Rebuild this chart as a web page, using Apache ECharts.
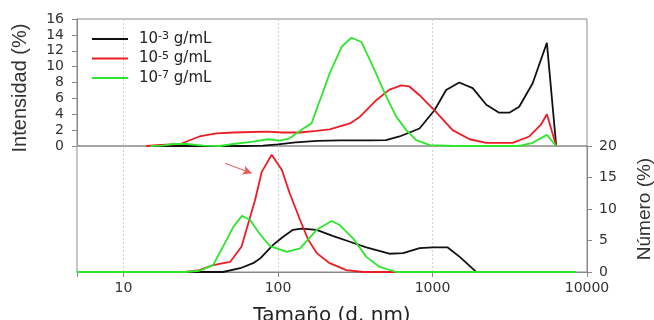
<!DOCTYPE html>
<html>
<head>
<meta charset="utf-8">
<script src="https://cdn.jsdelivr.net/npm/echarts@6/dist/echarts.min.js"></script>
<style>
html,body{margin:0;padding:0;background:#fff;}
#chart{width:654px;height:320px;}
</style>
</head>
<body>
<div id="chart"></div>
<script>
// Legend labels (exponents of concentration)
const seriesNames = ['10-3 g/mL', '10-5 g/mL', '10-7 g/mL'];
const seriesExps = ['-3', '-5', '-7'];
const seriesColors = ['#111111', '#ee1c25', '#2ee62e'];

// Top panel: Intensidad (%)
const blackTopX = [15, 60, 80, 100, 130, 180, 250, 400, 500, 612, 824, 1030, 1225, 1490, 1820, 2230, 2700, 3140, 3640, 4450, 5500, 6320];
const blackTopY = [0, 0, 0.05, 0.2, 0.45, 0.65, 0.7, 0.7, 0.75, 1.2, 2.2, 4.5, 7.05, 8.0, 7.3, 5.2, 4.2, 4.2, 4.95, 7.9, 13.0, 0];

const redTopX = [14, 16.5, 23.3, 31, 40, 51.5, 84.5, 107, 138, 177, 216, 292, 340, 434, 527, 628, 708, 824, 1030, 1350, 1740, 2230, 3300, 4230, 5020, 5500, 6320];
const redTopY = [0, 0.1, 0.25, 1.2, 1.6, 1.7, 1.8, 1.7, 1.7, 1.9, 2.1, 2.85, 3.7, 5.8, 7.1, 7.64, 7.5, 6.4, 4.5, 2.0, 0.85, 0.4, 0.4, 1.2, 2.65, 4.0, 0];

const greenTopX = [15, 17.8, 21, 25.6, 33, 42, 51.5, 69, 86, 103, 119, 146, 165, 187, 216, 258, 299, 347, 412, 503, 583, 676, 785, 960, 1400, 3640, 4450, 5500, 6320];
const greenTopY = [0, 0.05, 0.25, 0.25, 0.05, 0, 0.25, 0.55, 0.85, 0.67, 0.97, 2.2, 2.85, 5.8, 9.15, 12.5, 13.64, 13.1, 10.0, 6.2, 3.7, 2.0, 0.75, 0.1, 0, 0, 0.4, 1.4, 0];

// Bottom panel: Número (%)
const blackBotX = [20, 44, 57, 69, 77, 93, 108, 125, 142, 178, 228, 292, 373, 525, 645, 825, 1000, 1255, 1500, 1910, 2560];
const blackBotY = [0, 0, 0.6, 1.4, 2.2, 4.3, 5.6, 6.7, 6.9, 6.7, 5.7, 4.8, 3.9, 2.9, 3.0, 3.8, 3.9, 3.9, 2.4, 0.05, 0];

const redBotX = [5, 25, 31, 38, 49, 58, 71, 78.5, 91, 106, 119, 139, 157, 178, 216, 277, 355, 600];
const redBotY = [0, 0, 0.3, 1.1, 1.6, 4.0, 11.4, 15.9, 18.6, 16.2, 12.5, 8.25, 5.1, 3.0, 1.4, 0.3, 0, 0];

const greenBotX = [5, 25, 31, 38, 44, 51.5, 58.4, 66, 76.5, 88.7, 114, 139, 178, 222, 251, 306, 373, 455, 583, 8500];
const greenBotY = [0, 0, 0.2, 1.1, 4.0, 7.2, 8.9, 8.25, 6.0, 4.1, 3.2, 3.75, 6.7, 8.1, 7.45, 5.35, 2.4, 0.8, 0, 0];

// Annotation arrow (data coordinates of bottom panel)
const arrowStart = [45.5, 17.25];
const arrowEnd = [67.6, 15.67];

// Axis ticks
const xMin = 5, xMax = 10000;
const topYMax = 16, topYStep = 2;
const botYMax = 20, botYStep = 5;

function pairs(xs, ys) { return xs.map((x, i) => [x, ys[i]]); }

const tickFont = { fontFamily: 'DejaVu Sans', fontSize: 14, color: '#333' };
const gridLine = { show: true, lineStyle: { color: '#cfcfcf', type: [2, 2], width: 1 } };

const topData = [pairs(blackTopX, blackTopY), pairs(redTopX, redTopY), pairs(greenTopX, greenTopY)];
const botData = [pairs(blackBotX, blackBotY), pairs(redBotX, redBotY), pairs(greenBotX, greenBotY)];

const series = [];
for (let i = 0; i < 3; i++) {
  series.push({
    name: seriesNames[i], type: 'line', xAxisIndex: 0, yAxisIndex: 0,
    data: topData[i], showSymbol: false, color: seriesColors[i],
    lineStyle: { width: 1.8, color: seriesColors[i] }, z: 3 + i
  });
}
for (let i = 0; i < 3; i++) {
  const s = {
    name: seriesNames[i], type: 'line', xAxisIndex: 1, yAxisIndex: 1,
    data: botData[i], showSymbol: false, color: seriesColors[i],
    lineStyle: { width: 1.8, color: seriesColors[i] }, z: 3 + i
  };
  if (i === 1) {
    s.markLine = {
      silent: true, symbol: ['none', 'arrow'], symbolSize: [7, 9],
      label: { show: false },
      lineStyle: { color: '#ee5555', width: 1, type: 'solid' },
      data: [[{ coord: arrowStart }, { coord: arrowEnd }]]
    };
  }
  series.push(s);
}

const chart = echarts.init(document.getElementById('chart'), null, { renderer: 'canvas' });
chart.setOption({
  animation: false,
  backgroundColor: '#fff',
  legend: {
    data: seriesNames,
    orient: 'vertical', left: 87, top: 26, padding: 5,
    icon: 'rect', itemWidth: 36, itemHeight: 2, itemGap: 4,
    formatter: function (name) {
      const i = seriesNames.indexOf(name);
      return '{n|10}{s|' + seriesExps[i] + '}{n| g/mL}';
    },
    textStyle: {
      padding: [0, 0, 0, 6],
      rich: {
        n: { fontFamily: 'DejaVu Sans', fontSize: 15, lineHeight: 16, color: '#222' },
        s: { fontFamily: 'DejaVu Sans', fontSize: 11, verticalAlign: 'top', color: '#222' }
      }
    }
  },
  grid: [
    { left: 77, right: 67, top: 19, height: 127, show: true, borderColor: '#888', borderWidth: 1, outerBoundsMode: 'none', containLabel: false },
    { left: 77, right: 67, top: 146, height: 126, show: true, borderColor: '#888', borderWidth: 1, outerBoundsMode: 'none', containLabel: false }
  ],
  xAxis: [
    {
      gridIndex: 0, type: 'log', logBase: 10, min: xMin, max: xMax,
      axisLine: { show: false }, axisTick: { show: false }, axisLabel: { show: false },
      splitLine: gridLine
    },
    {
      gridIndex: 1, type: 'log', logBase: 10, min: xMin, max: xMax,
      axisLine: { show: true, lineStyle: { color: '#888' } },
      axisTick: { show: true, length: 5, lineStyle: { color: '#888' } },
      axisLabel: Object.assign({
        margin: 9,
        formatter: function (v) {
          const l = Math.log10(v);
          return Math.abs(l - Math.round(l)) < 1e-6 ? String(Math.round(v)) : '';
        }
      }, tickFont),
      splitLine: gridLine,
      name: 'Tamaño (d. nm)', nameLocation: 'middle', nameGap: 34,
      nameTextStyle: { fontFamily: 'DejaVu Sans', fontSize: 20, color: '#222' }
    }
  ],
  yAxis: [
    {
      gridIndex: 0, type: 'value', position: 'left', min: 0, max: topYMax, interval: topYStep,
      axisLine: { show: true, lineStyle: { color: '#888' } },
      axisTick: { show: true, length: 5, lineStyle: { color: '#888' } },
      axisLabel: Object.assign({ margin: 13 }, tickFont),
      splitLine: { show: false },
      name: 'Intensidad (%)', nameLocation: 'middle', nameGap: 47, nameRotate: 90,
      nameTextStyle: { fontFamily: 'Liberation Sans', fontSize: 20, color: '#333', padding: [0, 11, 0, 0] }
    },
    {
      gridIndex: 1, type: 'value', position: 'right', min: 0, max: botYMax, interval: botYStep,
      axisLine: { show: true, lineStyle: { color: '#888' } },
      axisTick: { show: true, length: 5, lineStyle: { color: '#888' } },
      axisLabel: Object.assign({ margin: 12 }, tickFont),
      splitLine: { show: false },
      name: 'Número (%)', nameLocation: 'middle', nameGap: 48, nameRotate: 90,
      nameTextStyle: { fontFamily: 'Liberation Sans', fontSize: 19, color: '#333' }
    }
  ],
  series: series
});
</script>
</body>
</html>
